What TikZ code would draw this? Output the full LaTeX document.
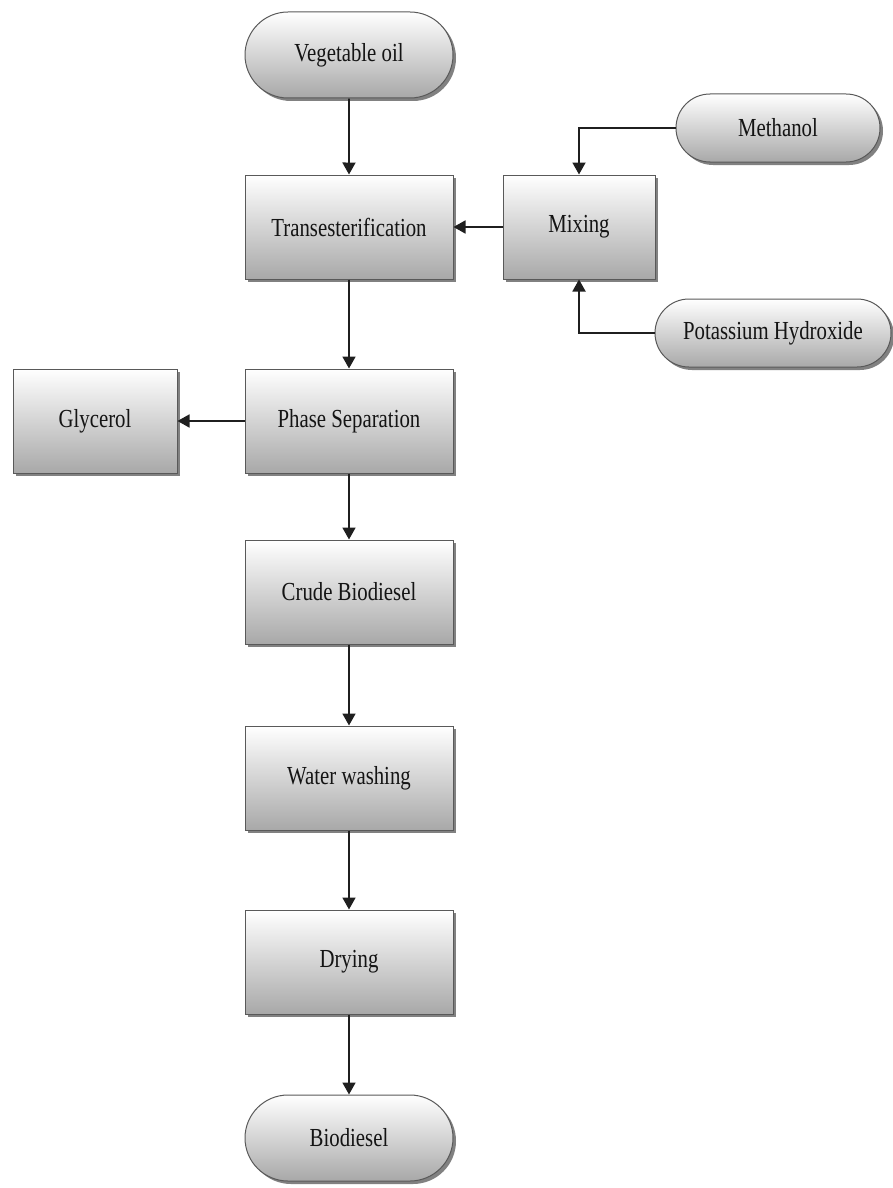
\documentclass[tikz,border=0pt]{standalone}
\usepackage{fontspec}
\newfontfamily\boxfont{Liberation Serif}[FakeStretch=0.8]
\usetikzlibrary{arrows.meta,shapes.misc,shadows}

\begin{document}
\begin{tikzpicture}[x=1pt,y=-1pt,
  base/.style={draw=black!65,line width=1pt,top color=white,bottom color=black!34,
    text=black!92,font=\boxfont\fontsize{26}{28}\selectfont,
    drop shadow={shadow xshift=3pt,shadow yshift=-3pt,fill=black!55,opacity=0.9}},
  stage/.style={base,rectangle,minimum width=208pt,minimum height=104pt,inner sep=0pt},
  source/.style={base,rounded rectangle,minimum height=68pt,inner sep=0pt},
  flow/.style={draw=black!88,line width=1.8pt,-{Triangle[length=12pt,width=13pt]}}]
\useasboundingbox (0,0) rectangle (893,1188);

\node[source,minimum width=208pt,minimum height=86pt] (oil) at (349,55) {Vegetable oil};
\node[stage] (trans) at (349,227) {Transesterification};
\node[stage,minimum width=152pt] (mix) at (579,227) {Mixing};
\node[source,minimum width=204pt] (meoh) at (778,128) {Methanol};
\node[source,minimum width=236pt] (koh) at (773,333) {Potassium Hydroxide};
\node[stage] (phase) at (349,421) {Phase Separation};
\node[stage,minimum width=164pt] (gly) at (95,421) {Glycerol};
\node[stage] (crude) at (349,592) {Crude Biodiesel};
\node[stage] (wash) at (349,778) {Water washing};
\node[stage] (dry) at (349,962) {Drying};
\node[source,minimum width=208pt,minimum height=86pt] (bio) at (349,1138) {Biodiesel};

\path[flow] (oil) -- (trans);
\path[flow] (meoh.west) -| (mix.north);
\path[flow] (koh.west) -| (mix.south);
\path[flow] (mix) -- (trans);
\path[flow] (trans) -- (phase);
\path[flow] (phase) -- (gly);
\path[flow] (phase) -- (crude);
\path[flow] (crude) -- (wash);
\path[flow] (wash) -- (dry);
\path[flow] (dry) -- (bio);
\end{tikzpicture}
\end{document}
